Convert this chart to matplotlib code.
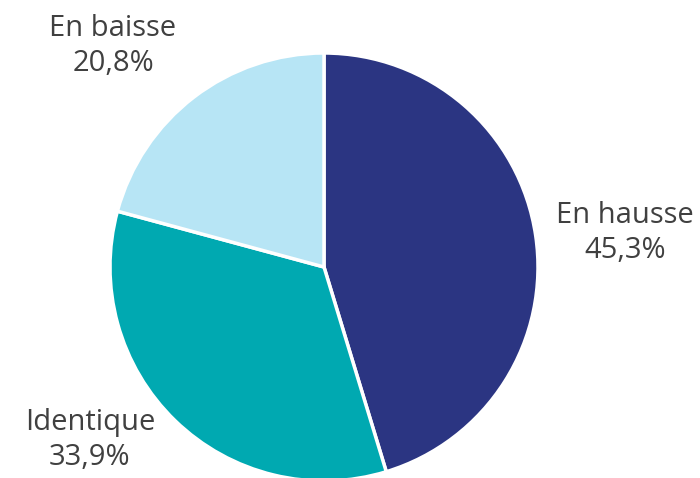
import matplotlib
matplotlib.use("Agg")
import matplotlib.pyplot as plt

categories = ["En hausse", "Identique", "En baisse"]
values = [45.3, 33.9, 20.8]
value_labels = ["45,3%", "33,9%", "20,8%"]
colors = ["#2B3582", "#00A9B1", "#B7E5F5"]

W, H = 700, 478
fig = plt.figure(figsize=(W / 100, H / 100), dpi=100)
cx, cy, r = 324, 267, 214
ax = fig.add_axes([(cx - r) / W, (H - cy - r) / H, 2 * r / W, 2 * r / H])
ax.pie(values, colors=colors, startangle=90, counterclock=False, radius=1,
       wedgeprops=dict(edgecolor="white", linewidth=2.5))
ax.set_xlim(-1, 1)
ax.set_ylim(-1, 1)
ax.set_aspect("equal")
ax.axis("off")

label_pos = [(625, 233), (90, 440), (113, 46)]
for cat, vl, (x, y) in zip(categories, value_labels, label_pos):
    fig.text(x / W, 1 - y / H, f"{cat}\n{vl}", ha="center", va="center",
             fontsize=21, color="#404040", family="Open Sans", linespacing=1.3)

fig.savefig("out.png", dpi=100)
